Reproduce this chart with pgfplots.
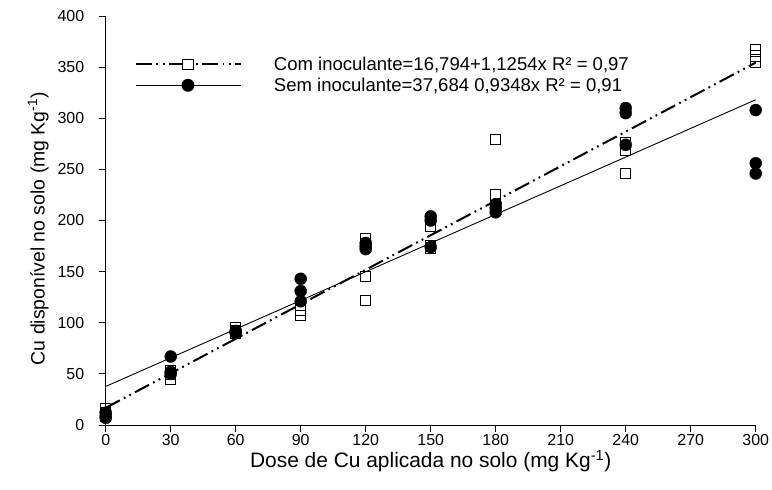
\documentclass[border=0pt]{standalone}
\usepackage{fontspec}
\setmainfont{Liberation Sans}
\usepackage{pgfplots}
\pgfplotsset{compat=1.18}

% Observed Cu in soil (three replicates per dose)
\pgfplotstableread{
dose cu
0    16
0    12
0    9
30   45
30   50
30   53
60   95
60   92
60   90
90   117
90   112
90   107
120  182
120  145
120  122
150  194
150  175
150  173
180  279
180  225
180  212
240  276
240  269
240  246
300  367
300  361
300  355
}\cominoc

\pgfplotstableread{
dose cu
0    12
0    9
0    7
30   67
30   52
30   50
60   92
60   90
60   91
90   143
90   131
90   121
120  178
120  175
120  172
150  204
150  200
150  174
180  216
180  212
180  208
240  310
240  305
240  274
300  308
300  256
300  246
}\seminoc

\tikzset{cominocline/.style={black, line width=2bp,
  dash pattern=on 16bp off 4.5bp on 1.8bp off 4.5bp on 1.8bp off 4.5bp}}

\begin{document}
\begin{tikzpicture}
\begin{axis}[
  at={(0,0)}, anchor=south west,
  scale only axis, width=650bp, height=409bp,
  xmin=0, xmax=300, ymin=0, ymax=400,
  axis x line=bottom, axis y line=left,
  axis line style={-, line width=0.9bp, black},
  xtick={0,30,...,300}, ytick={0,50,...,400},
  tick align=outside, major tick length=7bp,
  tick style={line width=0.9bp, black},
  /pgf/number format/assume math mode=true,
  ticklabel style={font=\fontsize{16}{19}\selectfont},
  yticklabel style={xshift=-11bp},
  xticklabel style={yshift=1bp},
  xlabel={Dose de Cu aplicada no solo (mg Kg\textsuperscript{-1})},
  ylabel={Cu disponível no solo (mg Kg\textsuperscript{-1})},
  xlabel style={font=\fontsize{21}{25}\selectfont, at={(axis description cs:0.5,-0.105)}, anchor=base},
  ylabel style={font=\fontsize{19.5}{23}\selectfont, at={(axis description cs:-0.104,0.48)}, anchor=center},
  clip=false,
  legend cell align=left,
  legend style={at={(axis description cs:0.045,0.900)}, anchor=north west,
    draw=none, fill=none, inner sep=0pt, outer sep=0pt,
    font=\fontsize{18.6}{22}\selectfont, row sep=6bp,
    nodes={inner sep=0pt},
    /tikz/every odd column/.append style={column sep=32bp}},
]
% fitted lines
\addplot[cominocline,
  legend image code/.code={
    \draw[cominocline] (0bp,0bp) -- (105bp,0bp);
    \draw[black, solid, line width=1.1bp, fill=white] plot[mark=square*, mark size=5.2bp] coordinates {(52bp,0bp)};
  }] coordinates {(0,16.794) (300,354.414)};
\addlegendentry{Com inoculante=16,794+1,1254x R² = 0,97}

\addplot[black, line width=0.9bp,
  legend image code/.code={
    \draw[black, line width=0.9bp] (0bp,0bp) -- (105bp,0bp);
    \draw[black, solid, fill=black] plot[mark=*, mark size=6bp] coordinates {(52bp,0bp)};
  }] coordinates {(0,37.684) (300,318.124)};
\addlegendentry{Sem inoculante=37,684 0,9348x R² = 0,91}

% observations
\addplot[only marks, mark=square, mark size=5.2bp, mark options={black, line width=1.1bp}, forget plot]
  table[x=dose, y=cu] {\cominoc};
\addplot[only marks, mark=*, mark size=6bp, mark options={black, fill=black}, forget plot]
  table[x=dose, y=cu] {\seminoc};
\end{axis}
\pgfresetboundingbox
\useasboundingbox (-105.7bp,-65bp) rectangle (666.3bp,425bp);
\end{tikzpicture}
\end{document}
